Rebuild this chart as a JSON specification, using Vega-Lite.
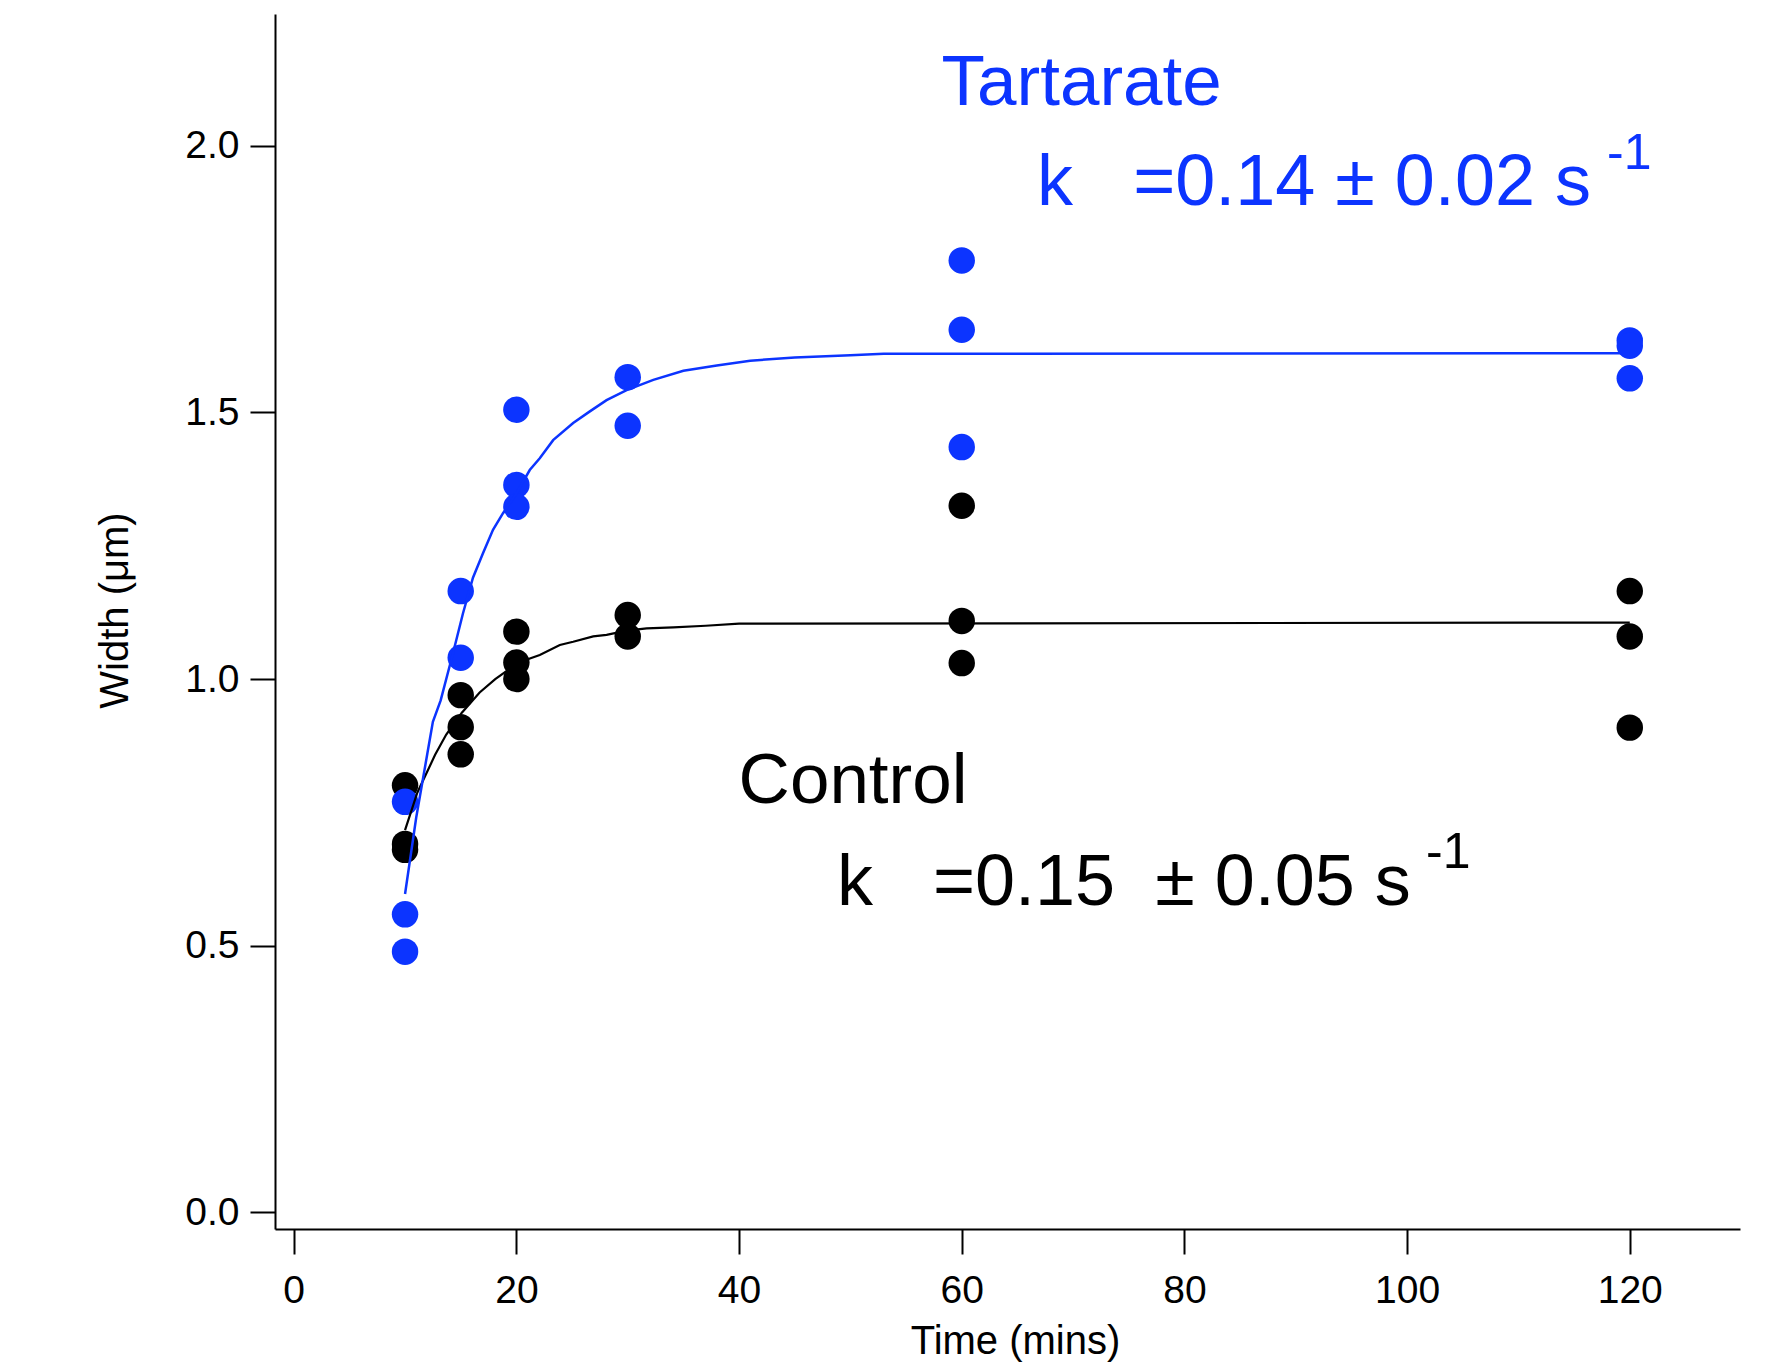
{
  "$schema": "https://vega.github.io/schema/vega-lite/v6.json",
  "width": 1465,
  "height": 1215,
  "autosize": "none",
  "padding": {"left": 275, "top": 14, "right": 28, "bottom": 134},
  "background": "white",
  "config": {
    "view": {"stroke": null},
    "font": "Liberation Sans",
    "axis": {
      "grid": false,
      "domainColor": "black",
      "domainWidth": 2,
      "tickColor": "black",
      "tickWidth": 2,
      "tickSize": 25,
      "labelColor": "black",
      "labelFont": "Liberation Sans",
      "labelFontSize": 39,
      "titleFont": "Liberation Sans",
      "titleFontSize": 40,
      "titleFontWeight": "normal",
      "titleColor": "black"
    }
  },
  "datasets": {
    "points": [
      {"time": 10, "width": 0.801, "series": "Control"},
      {"time": 10, "width": 0.691, "series": "Control"},
      {"time": 10, "width": 0.680, "series": "Control"},
      {"time": 15, "width": 0.970, "series": "Control"},
      {"time": 15, "width": 0.910, "series": "Control"},
      {"time": 15, "width": 0.859, "series": "Control"},
      {"time": 20, "width": 1.089, "series": "Control"},
      {"time": 20, "width": 1.031, "series": "Control"},
      {"time": 20, "width": 1.000, "series": "Control"},
      {"time": 30, "width": 1.120, "series": "Control"},
      {"time": 30, "width": 1.080, "series": "Control"},
      {"time": 60, "width": 1.325, "series": "Control"},
      {"time": 60, "width": 1.109, "series": "Control"},
      {"time": 60, "width": 1.030, "series": "Control"},
      {"time": 120, "width": 1.165, "series": "Control"},
      {"time": 120, "width": 1.080, "series": "Control"},
      {"time": 120, "width": 0.909, "series": "Control"},
      {"time": 10, "width": 0.770, "series": "Tartarate"},
      {"time": 10, "width": 0.559, "series": "Tartarate"},
      {"time": 10, "width": 0.489, "series": "Tartarate"},
      {"time": 15, "width": 1.165, "series": "Tartarate"},
      {"time": 15, "width": 1.040, "series": "Tartarate"},
      {"time": 20, "width": 1.505, "series": "Tartarate"},
      {"time": 20, "width": 1.364, "series": "Tartarate"},
      {"time": 20, "width": 1.323, "series": "Tartarate"},
      {"time": 30, "width": 1.566, "series": "Tartarate"},
      {"time": 30, "width": 1.475, "series": "Tartarate"},
      {"time": 60, "width": 1.785, "series": "Tartarate"},
      {"time": 60, "width": 1.655, "series": "Tartarate"},
      {"time": 60, "width": 1.435, "series": "Tartarate"},
      {"time": 120, "width": 1.635, "series": "Tartarate"},
      {"time": 120, "width": 1.625, "series": "Tartarate"},
      {"time": 120, "width": 1.564, "series": "Tartarate"}
    ],
    "controlFit": [
      {"time": 10, "width": 0.717},
      {"time": 11.1, "width": 0.787},
      {"time": 12.7, "width": 0.858},
      {"time": 13.7, "width": 0.896},
      {"time": 15.1, "width": 0.937},
      {"time": 16.7, "width": 0.975},
      {"time": 18.1, "width": 1.000},
      {"time": 20.2, "width": 1.031},
      {"time": 22.1, "width": 1.045},
      {"time": 23.9, "width": 1.064},
      {"time": 25.1, "width": 1.070},
      {"time": 26.9, "width": 1.080},
      {"time": 28.1, "width": 1.083},
      {"time": 29.9, "width": 1.091},
      {"time": 31.7, "width": 1.095},
      {"time": 34.1, "width": 1.097},
      {"time": 37, "width": 1.100},
      {"time": 40, "width": 1.104},
      {"time": 120, "width": 1.106}
    ],
    "tartarateFit": [
      {"time": 10, "width": 0.597},
      {"time": 11, "width": 0.74},
      {"time": 12, "width": 0.86},
      {"time": 12.5, "width": 0.92},
      {"time": 13.2, "width": 0.96},
      {"time": 14.3, "width": 1.048},
      {"time": 15.2, "width": 1.123},
      {"time": 16.1, "width": 1.19},
      {"time": 17, "width": 1.236},
      {"time": 17.9, "width": 1.28},
      {"time": 18.8, "width": 1.311},
      {"time": 20, "width": 1.348},
      {"time": 21.2, "width": 1.392},
      {"time": 22.1, "width": 1.414},
      {"time": 23.3, "width": 1.448},
      {"time": 25.1, "width": 1.48},
      {"time": 26.6, "width": 1.502},
      {"time": 28.1, "width": 1.523},
      {"time": 29.9, "width": 1.542},
      {"time": 32.3, "width": 1.561},
      {"time": 35, "width": 1.578},
      {"time": 38, "width": 1.588},
      {"time": 41, "width": 1.597},
      {"time": 45, "width": 1.603},
      {"time": 50, "width": 1.607},
      {"time": 53, "width": 1.610},
      {"time": 120, "width": 1.611}
    ]
  },
  "layer": [
    {
      "data": {"name": "points"},
      "transform": [{"filter": "datum.series === 'Control'"}],
      "mark": {"type": "point", "shape": "circle", "filled": true, "size": 700, "color": "black", "opacity": 1},
      "encoding": {
        "x": {
          "field": "time", "type": "quantitative",
          "scale": {"domain": [-1.68, 129.9], "nice": false, "zero": false},
          "axis": {"values": [0, 20, 40, 60, 80, 100, 120], "format": "d", "labelPadding": 17, "title": "Time (mins)", "titleX": 740, "titleY": 124, "titleBaseline": "alphabetic", "titleAnchor": null, "titleAlign": "center"}
        },
        "y": {
          "field": "width", "type": "quantitative",
          "scale": {"domain": [-0.031, 2.247], "nice": false, "zero": false},
          "axis": {"values": [0, 0.5, 1, 1.5, 2], "format": ".1f", "labelPadding": 11, "title": "Width (μm)", "titleX": -148, "titleY": 596, "titleAngle": -90, "titleBaseline": "alphabetic", "titleAlign": "center"}
        }
      }
    },
    {
      "data": {"name": "points"},
      "transform": [{"filter": "datum.series === 'Tartarate'"}],
      "mark": {"type": "point", "shape": "circle", "filled": true, "size": 700, "color": "#0c34ff", "opacity": 1},
      "encoding": {
        "x": {"field": "time", "type": "quantitative"},
        "y": {"field": "width", "type": "quantitative"}
      }
    },
    {
      "data": {"name": "controlFit"},
      "mark": {"type": "line", "color": "black", "strokeWidth": 2.2},
      "encoding": {
        "x": {"field": "time", "type": "quantitative"},
        "y": {"field": "width", "type": "quantitative"}
      }
    },
    {
      "data": {"name": "tartarateFit"},
      "mark": {"type": "line", "color": "#0c34ff", "strokeWidth": 2.5},
      "encoding": {
        "x": {"field": "time", "type": "quantitative"},
        "y": {"field": "width", "type": "quantitative"}
      }
    },
    {
      "data": {"values": [{"time": 58.19, "width": 2.077, "label": "Tartarate"}]},
      "mark": {"type": "text", "align": "left", "baseline": "alphabetic", "fontSize": 71, "color": "#0c34ff", "font": "Liberation Sans"},
      "encoding": {
        "x": {"field": "time", "type": "quantitative"},
        "y": {"field": "width", "type": "quantitative"},
        "text": {"field": "label"}
      }
    },
    {
      "data": {"values": [{"time": 66.77, "width": 1.889, "label": "k\u00a0\u00a0\u00a0=0.14 ± 0.02 s"}]},
      "mark": {"type": "text", "align": "left", "baseline": "alphabetic", "fontSize": 72, "color": "#0c34ff", "font": "Liberation Sans"},
      "encoding": {
        "x": {"field": "time", "type": "quantitative"},
        "y": {"field": "width", "type": "quantitative"},
        "text": {"field": "label"}
      }
    },
    {
      "data": {"values": [{"time": 117.96, "width": 1.957, "label": "-1"}]},
      "mark": {"type": "text", "align": "left", "baseline": "alphabetic", "fontSize": 50, "color": "#0c34ff", "font": "Liberation Sans"},
      "encoding": {
        "x": {"field": "time", "type": "quantitative"},
        "y": {"field": "width", "type": "quantitative"},
        "text": {"field": "label"}
      }
    },
    {
      "data": {"values": [{"time": 39.96, "width": 0.768, "label": "Control"}]},
      "mark": {"type": "text", "align": "left", "baseline": "alphabetic", "fontSize": 71, "color": "black", "font": "Liberation Sans"},
      "encoding": {
        "x": {"field": "time", "type": "quantitative"},
        "y": {"field": "width", "type": "quantitative"},
        "text": {"field": "label"}
      }
    },
    {
      "data": {"values": [{"time": 48.79, "width": 0.576, "label": "k\u00a0\u00a0\u00a0=0.15\u00a0\u00a0± 0.05 s"}]},
      "mark": {"type": "text", "align": "left", "baseline": "alphabetic", "fontSize": 72, "color": "black", "font": "Liberation Sans"},
      "encoding": {
        "x": {"field": "time", "type": "quantitative"},
        "y": {"field": "width", "type": "quantitative"},
        "text": {"field": "label"}
      }
    },
    {
      "data": {"values": [{"time": 101.7, "width": 0.646, "label": "-1"}]},
      "mark": {"type": "text", "align": "left", "baseline": "alphabetic", "fontSize": 50, "color": "black", "font": "Liberation Sans"},
      "encoding": {
        "x": {"field": "time", "type": "quantitative"},
        "y": {"field": "width", "type": "quantitative"},
        "text": {"field": "label"}
      }
    }
  ]
}
